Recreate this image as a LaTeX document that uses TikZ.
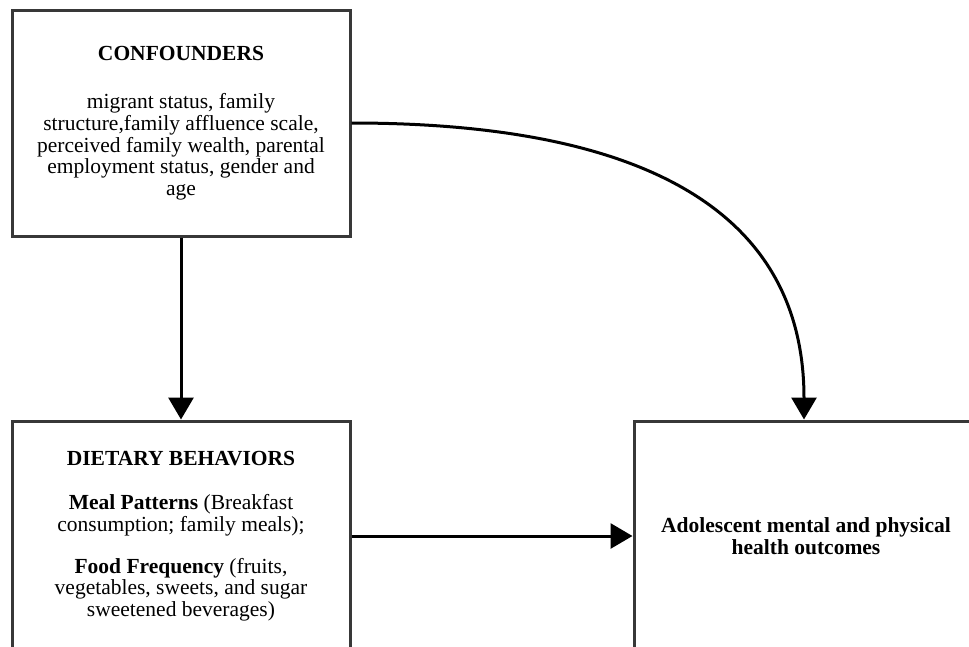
\documentclass[tikz,border=0pt]{standalone}
\usepackage{fontspec}
\setmainfont{Liberation Serif}
\usetikzlibrary{arrows.meta}

\begin{document}
\begin{tikzpicture}[x=1pt,y=-1pt,
	box/.style={draw=black!78, line width=3pt, fill=white, align=center, inner sep=0pt,
		font=\fontsize{21.5}{21.7}\selectfont},
	link/.style={black, line width=3pt, -{Triangle[width=25pt,length=22pt]}}]
	\useasboundingbox (0,0) rectangle (969,646);

	\node[box, minimum width=338pt, minimum height=226pt] (conf) at (181,123)
		{\textbf{CONFOUNDERS}\\[27pt]
		migrant status, family\\
		structure,family affluence scale,\\
		perceived family wealth, parental\\
		employment status, gender and\\
		age};
	\node[box, minimum width=338pt, minimum height=230pt] (diet) at (181,536)
		{\textbf{DIETARY BEHAVIORS}\\[23pt]
		\textbf{Meal Patterns} (Breakfast\\
		consumption; family meals);\\[20pt]
		\textbf{Food Frequency} (fruits,\\
		vegetables, sweets, and sugar\\
		sweetened beverages)};
	\node[box, minimum width=344pt, minimum height=230pt, font=\bfseries\fontsize{21.5}{21.7}\selectfont] (health) at (806,536)
		{Adolescent mental and physical\\
		health outcomes};

	\draw[link] (conf) -- (diet);
	\draw[link] (diet) -- (health);
	\draw[link] (conf.east) .. controls (650,123) and (804,215) .. (health.north -| 804,0);
\end{tikzpicture}
\end{document}
